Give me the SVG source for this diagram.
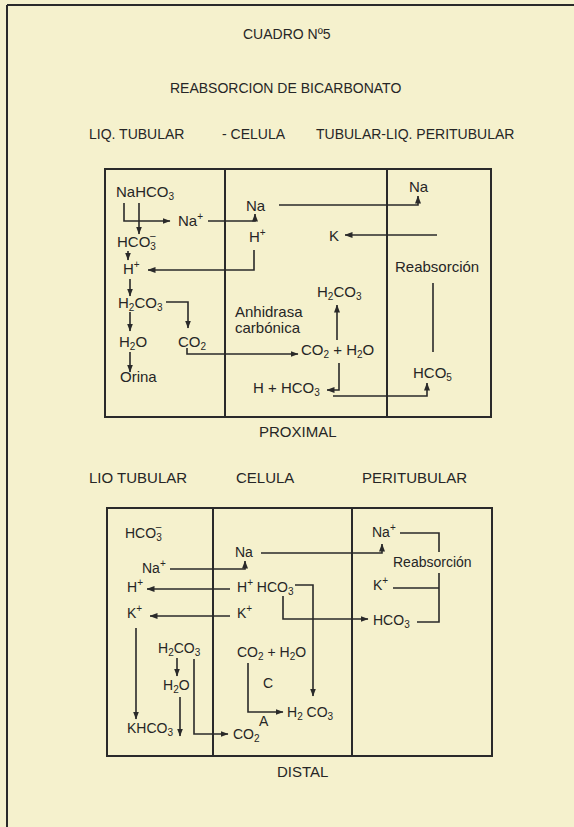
<svg xmlns="http://www.w3.org/2000/svg" width="574" height="827" viewBox="0 0 574 827">
<defs>
<style>
text{font-family:"Liberation Sans",Arial,sans-serif;fill:#262626}
.t{font-size:15px}
.d{font-size:14px}
.h{font-size:14px}
.s{font-size:10px}
.box{fill:none;stroke:#2a2a2a;stroke-width:2}
.c{fill:none;stroke:#2a2a2a;stroke-width:1.6;marker-end:url(#ah)}
.n{fill:none;stroke:#2a2a2a;stroke-width:1.6}
</style>
<marker id="ah" markerWidth="8" markerHeight="6" refX="7.5" refY="3" orient="auto" markerUnits="userSpaceOnUse"><path d="M0,0 L8,3 L0,6 z" fill="#2a2a2a"/></marker>
</defs>
<rect width="574" height="827" fill="#f5f1cd"/>
<g id="frame">
<path d="M7,5 H574 M7,5 V827" class="box"/>
</g>
<g id="titles">
<text class="h" x="243" y="39">CUADRO  Nº5</text>
<text class="h" x="170" y="93">REABSORCION DE BICARBONATO</text>
<text class="h" x="89" y="139">LIQ. TUBULAR</text>
<text class="h" x="222" y="139">- CELULA</text>
<text class="h" x="316" y="139">TUBULAR-LIQ. PERITUBULAR</text>
</g>
<g id="proximal">
<g id="prox-box"><rect x="105" y="169" width="386" height="248" class="box"/><path d="M225,169 V417 M387,169 V417" class="box"/></g>
<g id="p-nahco3"><text class="t" x="116" y="197">NaHCO<tspan class="s" dy="3">3</tspan></text></g>
<g id="p-na-plus"><text class="t" x="178" y="226">Na<tspan class="s" dy="-6">+</tspan></text></g>
<g id="p-hco3-minus"><text class="t" x="117" y="247">HCO<tspan class="s" dy="3">3</tspan><tspan class="s" dx="-6" dy="-11">–</tspan></text></g>
<g id="p-h-plus-lumen"><text class="t" x="123" y="274">H<tspan class="s" dy="-6">+</tspan></text></g>
<g id="p-h2co3-lumen"><text class="t" x="118" y="308">H<tspan class="s" dy="3">2</tspan><tspan dy="-3">CO</tspan><tspan class="s" dy="3">3</tspan></text></g>
<g id="p-h2o-lumen"><text class="t" x="119" y="347">H<tspan class="s" dy="3">2</tspan><tspan dy="-3">O</tspan></text></g>
<g id="p-orina"><text class="t" x="120" y="382">Orina</text></g>
<g id="p-co2-lumen"><text class="t" x="178" y="347">CO<tspan class="s" dy="3">2</tspan></text></g>
<g id="p-na-cell"><text class="t" x="246" y="211">Na</text></g>
<g id="p-h-plus-cell"><text class="t" x="249" y="242">H<tspan class="s" dy="-6">+</tspan></text></g>
<g id="p-anhidrasa"><text class="t" x="235" y="317">Anhidrasa</text><text class="t" x="235" y="333">carbónica</text></g>
<g id="p-h2co3-cell"><text class="t" x="317" y="297">H<tspan class="s" dy="3">2</tspan><tspan dy="-3">CO</tspan><tspan class="s" dy="3">3</tspan></text></g>
<g id="p-co2-h2o"><text class="t" x="301" y="355">CO<tspan class="s" dy="3">2</tspan><tspan dy="-3"> + H</tspan><tspan class="s" dy="3">2</tspan><tspan dy="-3">O</tspan></text></g>
<g id="p-h-hco3"><text class="t" x="253" y="393">H + HCO<tspan class="s" dy="3">3</tspan></text></g>
<g id="p-na-peri"><text class="t" x="409" y="192">Na</text></g>
<g id="p-k"><text class="t" x="329" y="241">K</text></g>
<g id="p-reabsorcion"><text class="t" x="395" y="272">Reabsorción</text></g>
<g id="p-hco5"><text class="t" x="413" y="378">HCO<tspan class="s" dy="3">5</tspan></text></g>
<g id="p-label"><text class="t" x="259" y="437">PROXIMAL</text></g>
</g>
<g id="distal">
<g id="d-header"><text class="t" x="89" y="483">LIO TUBULAR</text><text class="t" x="236" y="483">CELULA</text><text class="t" x="362" y="483">PERITUBULAR</text></g>
<g id="dist-box"><rect x="107" y="508" width="385" height="248" class="box"/><path d="M213,508 V756 M352,508 V756" class="box"/></g>
<g id="d-hco3-minus"><text class="d" x="125" y="538">HCO<tspan class="s" dy="3">3</tspan><tspan class="s" dx="-6" dy="-11">–</tspan></text></g>
<g id="d-na-plus"><text class="d" x="142" y="573">Na<tspan class="s" dy="-6">+</tspan></text></g>
<g id="d-h-plus-lumen"><text class="d" x="127" y="592">H<tspan class="s" dy="-6">+</tspan></text></g>
<g id="d-k-plus-lumen"><text class="d" x="127" y="618">K<tspan class="s" dy="-6">+</tspan></text></g>
<g id="d-khco3"><text class="d" x="127" y="733">KHCO<tspan class="s" dy="3">3</tspan></text></g>
<g id="d-h2co3-lumen"><text class="d" x="158" y="653">H<tspan class="s" dy="3">2</tspan><tspan dy="-3">CO</tspan><tspan class="s" dy="3">3</tspan></text></g>
<g id="d-h2o"><text class="d" x="163" y="690">H<tspan class="s" dy="3">2</tspan><tspan dy="-3">O</tspan></text></g>
<g id="d-na-cell"><text class="d" x="235" y="557">Na</text></g>
<g id="d-h-hco3-cell"><text class="d" x="237" y="592">H<tspan class="s" dy="-6">+</tspan><tspan dy="6"> HCO</tspan><tspan class="s" dy="3">3</tspan></text></g>
<g id="d-k-plus-cell"><text class="d" x="237" y="618">K<tspan class="s" dy="-6">+</tspan></text></g>
<g id="d-co2-h2o"><text class="d" x="237" y="657">CO<tspan class="s" dy="3">2</tspan><tspan dy="-3"> + H</tspan><tspan class="s" dy="3">2</tspan><tspan dy="-3">O</tspan></text></g>
<g id="d-c"><text class="d" x="263" y="688">C</text></g>
<g id="d-a"><text class="d" x="259" y="726">A</text></g>
<g id="d-h2co3-cell"><text class="d" x="287" y="717">H<tspan class="s" dy="3">2</tspan><tspan dy="-3"> CO</tspan><tspan class="s" dy="3">3</tspan></text></g>
<g id="d-co2"><text class="d" x="233" y="739">CO<tspan class="s" dy="3">2</tspan></text></g>
<g id="d-na-peri"><text class="d" x="372" y="537">Na<tspan class="s" dy="-6">+</tspan></text></g>
<g id="d-reabsorcion"><text class="d" x="393" y="567">Reabsorción</text></g>
<g id="d-k-peri"><text class="d" x="373" y="590">K<tspan class="s" dy="-6">+</tspan></text></g>
<g id="d-hco3-peri"><text class="d" x="373" y="625">HCO<tspan class="s" dy="3">3</tspan></text></g>
<g id="d-label"><text class="t" x="277" y="777">DISTAL</text></g>
</g>
<g id="connectors">
<path class="c" d="M124,203 V221 H170"/>
<path class="c" d="M139,203 V234"/>
<path class="c" d="M208,221 H255 V214"/>
<path class="c" d="M254,250 V270 H148"/>
<path class="c" d="M128,251 V260"/>
<path class="c" d="M130,279 V296"/>
<path class="c" d="M166,302 H188 V328"/>
<path class="c" d="M130,312 V331"/>
<path class="c" d="M130,352 V372"/>
<path class="c" d="M187,348 V354 H298"/>
<path class="c" d="M337,340 V305"/>
<path class="c" d="M339,363 V390 H327"/>
<path class="c" d="M333,396 H427 V383"/>
<path class="c" d="M279,205 H418 V196"/>
<path class="c" d="M437,235 H345"/>
<path class="n" d="M433,283 V352"/>
<path class="c" d="M170,569 H245 V561"/>
<path class="c" d="M261,553 H382 V544"/>
<path class="c" d="M230,589 H147"/>
<path class="c" d="M230,616 H150"/>
<path class="c" d="M295,585 H313 V696"/>
<path class="c" d="M283,596 V619 H368"/>
<path class="n" d="M400,533 H439 V552 M439,573 V622 H417 M393,588 H439"/>
<path class="c" d="M136,628 V719"/>
<path class="c" d="M177,658 V676"/>
<path class="c" d="M180,697 V736"/>
<path class="c" d="M194,659 V734 H228"/>
<path class="c" d="M248,663 V712 H283"/>
</g>
</svg>
